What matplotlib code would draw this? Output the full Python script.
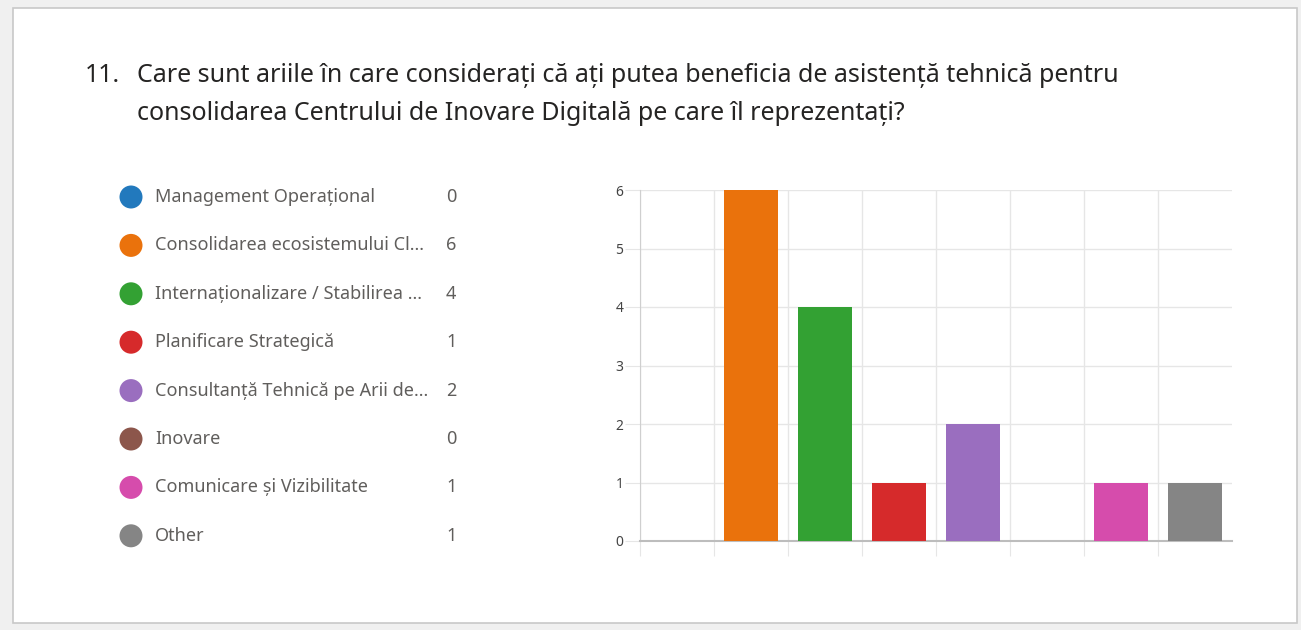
import matplotlib
matplotlib.use("Agg")
import matplotlib.pyplot as plt
from matplotlib.patches import Rectangle, Circle

W, H = 1301, 630
plt.rcParams["font.family"] = ["Noto Sans", "DejaVu Sans"]

title_num = "11."
title_lines = ["Care sunt ariile în care considerați că ați putea beneficia de asistență tehnică pentru",
               "consolidarea Centrului de Inovare Digitală pe care îl reprezentați?"]
labels = ["Management Operațional", "Consolidarea ecosistemului Cl...", "Internaționalizare / Stabilirea ...",
          "Planificare Strategică", "Consultanță Tehnică pe Arii de...", "Inovare",
          "Comunicare și Vizibilitate", "Other"]
counts = [0, 6, 4, 1, 2, 0, 1, 1]
colors = ["#2279bd", "#ea720c", "#33a133", "#d62a2b", "#9a6ebf", "#8c564b", "#d64cac", "#858585"]

fig = plt.figure(figsize=(W/100, H/100), dpi=100)
fig.patch.set_facecolor("#f0f0f0")

def fx(px): return px / W
def fy(py): return 1 - py / H

# card behind everything
fig.patches.append(Rectangle((fx(13), fy(623)), fx(1297) - fx(13), fy(8) - fy(623),
                             transform=fig.transFigure, facecolor="white", edgecolor="#c8c8c8",
                             lw=1.2, zorder=-10))

# title
tkw = dict(fontsize=18, color="#252423", va="center")
fig.text(fx(85), fy(75), title_num, **tkw)
fig.text(fx(137), fy(75), title_lines[0], **tkw)
fig.text(fx(137), fy(113), title_lines[1], **tkw)

# legend
for i, (lab, n, c) in enumerate(zip(labels, counts, colors)):
    y = 197 + i * 48.4
    fig.patches.append(Circle((131 / 100, (H - y) / 100), radius=0.115,
                              transform=fig.dpi_scale_trans, facecolor=c, edgecolor="none"))
    fig.text(fx(155), fy(y), lab, fontsize=13, color="#605e5c", va="center")
    fig.text(fx(446), fy(y), str(n), fontsize=13, color="#605e5c", va="center")

# bar chart
ax = fig.add_axes([fx(640), fy(541), fx(1232) - fx(640), fy(190) - fy(541)])
ax.set_zorder(5)
ax.patch.set_alpha(0)
x = range(len(counts))
ax.bar(x, counts, width=0.72, color=colors, zorder=3)
ax.set_xlim(-0.5, len(counts) - 0.5)
ax.set_ylim(0, 6)
ax.set_yticks(range(0, 7))
ax.set_xticks([i - 0.5 for i in range(len(counts))])
ax.set_xticklabels([])
ax.grid(True, color="#e6e6e6", lw=1, zorder=0)
ax.tick_params(axis="both", length=11, color="#e6e6e6", labelsize=10, labelcolor="#444444", pad=1)
for s in ["top", "right"]:
    ax.spines[s].set_visible(False)
ax.spines["left"].set_color("#cfcfcf")
ax.spines["bottom"].set_color("#bdbdbd")
ax.spines["bottom"].set_linewidth(1.5)

fig.savefig("out.png", dpi=100, facecolor=fig.get_facecolor())
